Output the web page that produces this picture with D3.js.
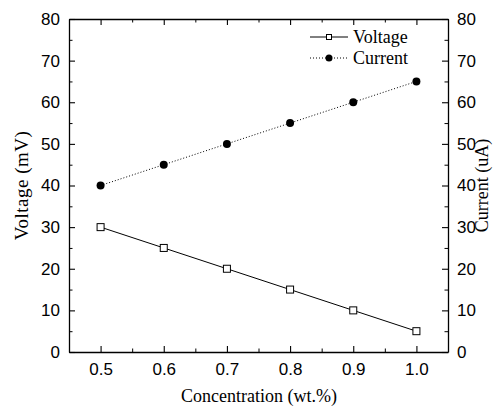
<!DOCTYPE html>
<html>
<head>
<meta charset="utf-8">
<script src="https://cdn.jsdelivr.net/npm/d3@7"></script>
<style>
  body { margin: 0; background: #fff; }
</style>
</head>
<body>
<div id="chart"></div>
<script>
// data
var concentration = [0.5, 0.6, 0.7, 0.8, 0.9, 1.0];
var voltage = [30, 25, 20, 15, 10, 5];
var current = [40, 45, 50, 55, 60, 65];
var xTicks = [0.5, 0.6, 0.7, 0.8, 0.9, 1.0];
var yTicks = [0, 10, 20, 30, 40, 50, 60, 70, 80];

var width = 493, height = 409;
var m = {left: 69, right: 45, top: 19, bottom: 57};

var svg = d3.select('#chart').append('svg')
  .attr('width', width).attr('height', height);

var x = d3.scaleLinear().domain([0.45, 1.05]).range([m.left, width - m.right]);
var yL = d3.scaleLinear().domain([0, 80]).range([height - m.bottom, m.top]);
var yR = d3.scaleLinear().domain([0, 80]).range([height - m.bottom, m.top]);

var sans = "'Liberation Sans', Arial, sans-serif";
var serif = "'Liberation Serif', 'Times New Roman', serif";

function styleAxis(g) {
  g.select('.domain').attr('stroke', '#000').attr('stroke-width', 1.3);
  g.selectAll('.tick line').attr('stroke', '#000').attr('stroke-width', 1.1);
  g.selectAll('.tick text').attr('font-family', sans).attr('font-size', 17).attr('fill', '#000');
}

function minor(g) {
  g.select('.domain').remove();
  g.selectAll('line').attr('stroke', '#000');
}

var xMinor = d3.range(0.45, 1.06, 0.05).filter(function(v) { return Math.abs(v * 10 - Math.round(v * 10)) > 0.01; });
var yMinor = d3.range(5, 80, 10);

// bottom
var gx = svg.append('g').attr('transform', 'translate(0,' + (height - m.bottom) + ')')
  .call(d3.axisBottom(x).tickValues(xTicks).tickFormat(d3.format('.1f')).tickSizeInner(-6).tickSizeOuter(0).tickPadding(11));
styleAxis(gx);
svg.append('g').attr('transform', 'translate(0,' + (height - m.bottom) + ')')
  .call(d3.axisBottom(x).tickValues(xMinor).tickFormat('').tickSizeInner(-3.5).tickSizeOuter(0)).call(minor);

// top
var gt = svg.append('g').attr('transform', 'translate(0,' + m.top + ')')
  .call(d3.axisTop(x).tickValues(xTicks).tickFormat('').tickSizeInner(-6).tickSizeOuter(0));
styleAxis(gt);
svg.append('g').attr('transform', 'translate(0,' + m.top + ')')
  .call(d3.axisTop(x).tickValues(xMinor).tickFormat('').tickSizeInner(-3.5).tickSizeOuter(0)).call(minor);

// left
var gl = svg.append('g').attr('transform', 'translate(' + m.left + ',0)')
  .call(d3.axisLeft(yL).tickValues(yTicks).tickSizeInner(-6).tickSizeOuter(0).tickPadding(9));
styleAxis(gl);
svg.append('g').attr('transform', 'translate(' + m.left + ',0)')
  .call(d3.axisLeft(yL).tickValues(yMinor).tickFormat('').tickSizeInner(-3.5).tickSizeOuter(0)).call(minor);

// right
var gr = svg.append('g').attr('transform', 'translate(' + (width - m.right) + ',0)')
  .call(d3.axisRight(yR).tickValues(yTicks).tickSizeInner(-6).tickSizeOuter(0).tickPadding(9));
styleAxis(gr);
svg.append('g').attr('transform', 'translate(' + (width - m.right) + ',0)')
  .call(d3.axisRight(yR).tickValues(yMinor).tickFormat('').tickSizeInner(-3.5).tickSizeOuter(0)).call(minor);

// axis titles
var midY = (m.top + height - m.bottom) / 2;
svg.append('text').attr('x', 259).attr('y', 402)
  .attr('text-anchor', 'middle').attr('font-family', serif).attr('font-size', 18)
  .text('Concentration (wt.%)');
svg.append('text').attr('transform', 'translate(28,' + midY + ') rotate(-90)')
  .attr('text-anchor', 'middle').attr('font-family', serif).attr('font-size', 19)
  .attr('letter-spacing', 0.5)
  .text('Voltage (mV)');
svg.append('text').attr('transform', 'translate(488,' + midY + ') rotate(-90)')
  .attr('text-anchor', 'middle').attr('font-family', serif).attr('font-size', 18)
  .text('Current (uA)');

// series
var vData = concentration.map(function(c, i) { return [c, voltage[i]]; });
var cData = concentration.map(function(c, i) { return [c, current[i]]; });

svg.append('path').datum(vData)
  .attr('fill', 'none').attr('stroke', '#000').attr('stroke-width', 1)
  .attr('d', d3.line().x(function(d) { return x(d[0]); }).y(function(d) { return yL(d[1]); }));
svg.append('path').datum(cData)
  .attr('fill', 'none').attr('stroke', '#000').attr('stroke-width', 1).attr('stroke-dasharray', '1,2')
  .attr('d', d3.line().x(function(d) { return x(d[0]); }).y(function(d) { return yR(d[1]); }));

svg.selectAll('.vpt').data(vData).enter().append('rect')
  .attr('x', function(d) { return x(d[0]) - 3.5; }).attr('y', function(d) { return yL(d[1]) - 3.5; })
  .attr('width', 7).attr('height', 7).attr('fill', '#fff').attr('stroke', '#000').attr('stroke-width', 1);
svg.selectAll('.cpt').data(cData).enter().append('circle')
  .attr('cx', function(d) { return x(d[0]); }).attr('cy', function(d) { return yR(d[1]); })
  .attr('r', 4).attr('fill', '#000');

// legend
var lg = svg.append('g');
lg.append('line').attr('x1', 310).attr('x2', 348).attr('y1', 37).attr('y2', 37).attr('stroke', '#000');
lg.append('rect').attr('x', 326.5).attr('y', 34.5).attr('width', 5).attr('height', 5).attr('fill', '#fff').attr('stroke', '#000');
lg.append('text').attr('x', 353).attr('y', 43).attr('font-family', serif).attr('font-size', 18).text('Voltage');
lg.append('line').attr('x1', 310).attr('x2', 348).attr('y1', 58).attr('y2', 58).attr('stroke', '#000').attr('stroke-dasharray', '1,2');
lg.append('circle').attr('cx', 329).attr('cy', 58).attr('r', 3.5).attr('fill', '#000');
lg.append('text').attr('x', 353).attr('y', 64).attr('font-family', serif).attr('font-size', 18).text('Current');
</script>
</body>
</html>
